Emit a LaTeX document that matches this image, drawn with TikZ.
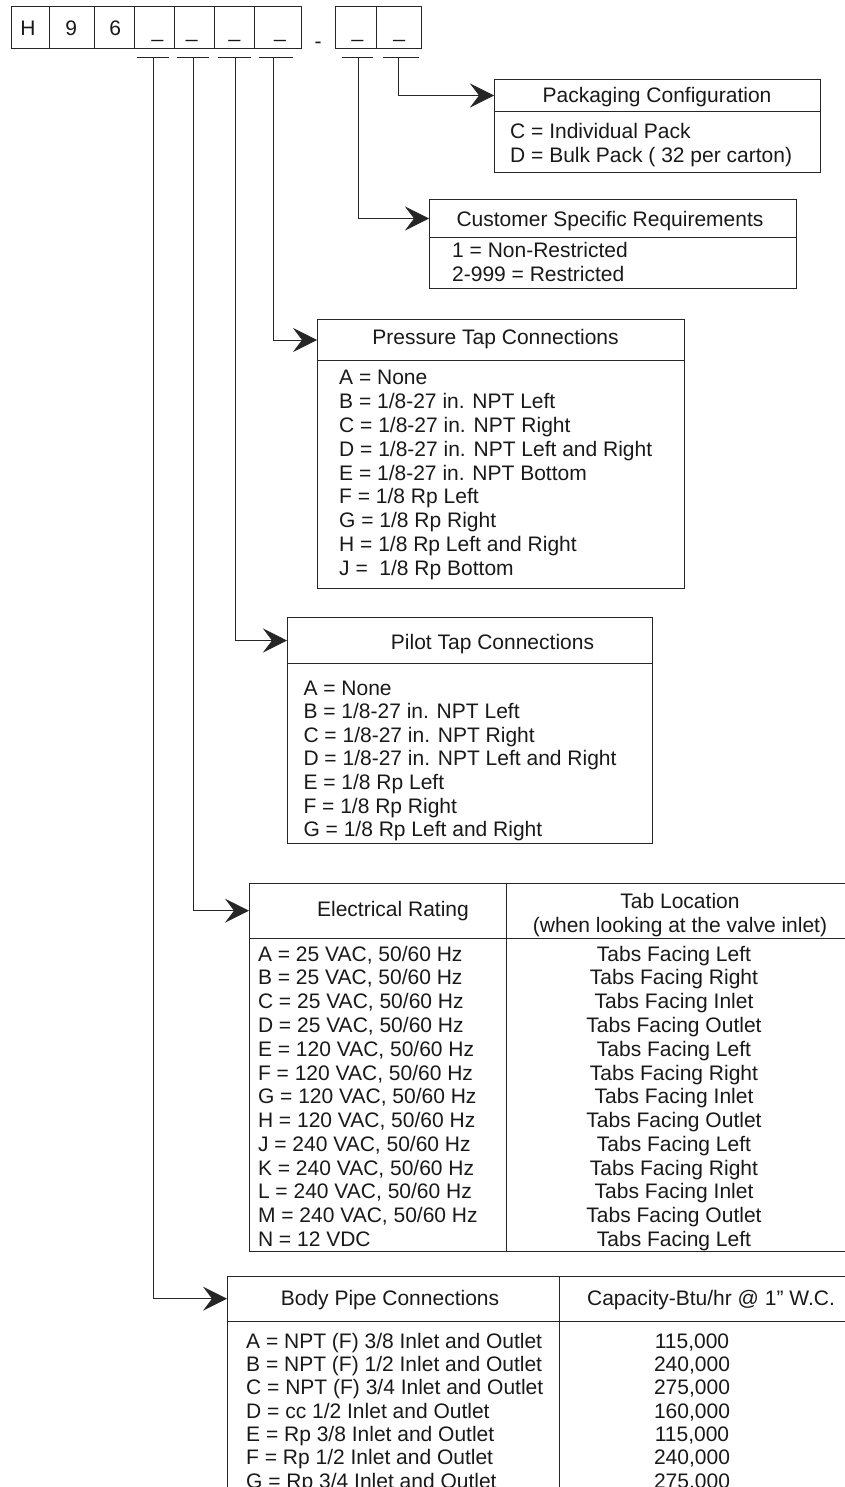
\documentclass[tikz,border=0pt]{standalone}
\usepackage{fontspec}
\setmainfont{Liberation Sans}
\usetikzlibrary{arrows.meta}
\newcommand{\fsz}{\fontsize{21}{24}\selectfont}
\begin{document}
\begin{tikzpicture}[x=1pt,y=-1pt,
  ln/.style={line width=1pt, draw=black!85},
  cell/.style={ln, draw, inner sep=0pt, anchor=north west},
  area/.style={inner sep=0pt, anchor=north west},
  txt/.style={inner sep=0pt, font=\fsz, text height=15pt, text depth=0pt, text=black!90},
  glyph/.style={inner sep=0pt, font=\fsz, anchor=base, text=black!90},
  arr/.style={ln, -{Stealth[length=24pt,width=24pt,inset=9pt]}},
]
\useasboundingbox (0,0) rectangle (845,1487);
\clip (0,0) rectangle (845,1487);

% ---- model code boxes
\foreach \a/\b/\n in {10.7/49/c1,49/94/c2,94/134/c3,134/174/c4,174/214/c5,214/254/c6,254/301/c7,335/376/c8,376/421/c9}{
  \pgfmathsetmacro\w{\b-\a}
  \node[cell, minimum width=\w pt, minimum height=42pt] (\n) at (\a,6) {};
}
\node[txt] (tH) at (28,28.5) {H};
\node[txt] (t9) at (71.2,28.5) {9};
\node[txt] (t6) at (115.3,28.5) {6};
\foreach \x [count=\i] in {157.5,191.7,234.5,280,357.5,399.3}
  \node[glyph] (u\i) at (\x,38) {\_};
\node[glyph] (dash) at (318,49) {-};

% ---- bars under the code positions
\foreach \a/\b in {137/169,177/209,218/251,259/293,342/373,383/419}
  \draw[ln] (\a,58) -- (\b,58);
\coordinate (k1) at (153,58);
\coordinate (k2) at (193,58);
\coordinate (k3) at (235,58);
\coordinate (k4) at (273,58);
\coordinate (k5) at (358,58);
\coordinate (k6) at (398,58);

% ---- Packaging Configuration
\node[cell, minimum width=326pt, minimum height=32pt] (packH) at (494,79) {};
\node[cell, minimum width=326pt, minimum height=61pt] (packB) at (494,111) {};
\node[txt] (packT) at (657,95.5) {Packaging Configuration};
\node[txt, anchor=west] (pk1) at (510,131) {C = Individual Pack};
\node[txt, anchor=west] (pk2) at (510,155) {D = Bulk Pack ( 32 per carton)};

% ---- Customer Specific Requirements
\node[cell, minimum width=367pt, minimum height=38pt] (custH) at (429,199) {};
\node[cell, minimum width=367pt, minimum height=51pt] (custB) at (429,237) {};
\node[txt] (custT) at (610,219.5) {Customer Specific Requirements};
\node[txt, anchor=west] (cu1) at (452,250.5) {1 = Non-Restricted};
\node[txt, anchor=west] (cu2) at (452,274) {2-999 = Restricted};

% ---- Pressure Tap Connections
\node[cell, minimum width=367pt, minimum height=41pt] (presH) at (317,319) {};
\node[cell, minimum width=367pt, minimum height=228pt] (presB) at (317,360) {};
\node[txt] (presT) at (495.5,337) {Pressure Tap Connections};
\foreach \t [count=\i] in {A = None, B = 1/8-27 in. NPT Left, C = 1/8-27 in. NPT Right,
    D = 1/8-27 in. NPT Left and Right, E = 1/8-27 in. NPT Bottom, F = 1/8 Rp Left,
    G = 1/8 Rp Right, H = 1/8 Rp Left and Right, J =\ \ 1/8 Rp Bottom}
  \node[txt, anchor=west] (pr\i) at (339,{376.7+(\i-1)*23.95}) {\t};

% ---- Pilot Tap Connections
\node[cell, minimum width=365pt, minimum height=46pt] (pilotH) at (287,617) {};
\node[cell, minimum width=365pt, minimum height=180pt] (pilotB) at (287,663) {};
\node[txt] (pilotT) at (492.5,642) {Pilot Tap Connections};
\foreach \t [count=\i] in {A = None, B = 1/8-27 in. NPT Left, C = 1/8-27 in. NPT Right,
    D = 1/8-27 in. NPT Left and Right, E = 1/8 Rp Left, F = 1/8 Rp Right,
    G = 1/8 Rp Left and Right}
  \node[txt, anchor=west] (pi\i) at (303.3,{687.5+(\i-1)*23.66}) {\t};

% ---- Electrical Rating table
\draw[ln] (846,883) -- (249,883) -- (249,1251) -- (846,1251);
\draw[ln] (249,938) -- (846,938);
\draw[ln] (506,883) -- (506,1251);
\node[area, minimum width=257pt, minimum height=55pt] (elecH) at (249,883) {};
\node[txt] (elecT) at (393,909) {Electrical Rating};
\node[txt] (tabT1) at (680,900.5) {Tab Location};
\node[txt] (tabT2) at (680,924.5) {(when looking at the valve inlet)};
\foreach \t [count=\i] in {{A = 25 VAC, 50/60 Hz},{B = 25 VAC, 50/60 Hz},{C = 25 VAC, 50/60 Hz},
    {D = 25 VAC, 50/60 Hz},{E = 120 VAC, 50/60 Hz},{F = 120 VAC, 50/60 Hz},{G = 120 VAC, 50/60 Hz},
    {H = 120 VAC, 50/60 Hz},{J = 240 VAC, 50/60 Hz},{K = 240 VAC, 50/60 Hz},{L = 240 VAC, 50/60 Hz},
    {M = 240 VAC, 50/60 Hz},{N = 12 VDC}}
  \node[txt, anchor=west] (el\i) at (257.8,{953.7+(\i-1)*23.76}) {\t};
\foreach \t [count=\i] in {Left,Right,Inlet,Outlet,Left,Right,Inlet,Outlet,Left,Right,Inlet,Outlet,Left}
  \node[txt] (tb\i) at (674,{953.7+(\i-1)*23.76}) {Tabs Facing \t};

% ---- Body Pipe Connections table
\draw[ln] (846,1276) -- (227,1276) -- (227,1490);
\draw[ln] (227,1321) -- (846,1321);
\draw[ln] (559,1276) -- (559,1490);
\node[area, minimum width=332pt, minimum height=45pt] (bodyH) at (227,1276) {};
\node[txt] (bodyT) at (390,1298) {Body Pipe Connections};
\node[txt] (capT) at (711,1298) {Capacity-Btu/hr @ 1” W.C.};
\foreach \t [count=\i] in {A = NPT (F) 3/8 Inlet and Outlet, B = NPT (F) 1/2 Inlet and Outlet,
    C = NPT (F) 3/4 Inlet and Outlet, D = cc 1/2 Inlet and Outlet, E = Rp 3/8 Inlet and Outlet,
    F = Rp 1/2 Inlet and Outlet, G = Rp 3/4 Inlet and Outlet}
  \node[txt, anchor=west] (bp\i) at (246,{1340.8+(\i-1)*23.3}) {\t};
\foreach \t [count=\i] in {{115,000},{240,000},{275,000},{160,000},{115,000},{240,000},{275,000}}
  \node[txt] (cp\i) at (692,{1340.8+(\i-1)*23.3}) {\t};

% ---- connectors
\draw[arr] (k6) |- (packH.west);
\draw[arr] (k5) |- (custH.west);
\draw[arr] (k4) |- (presH.west);
\draw[arr] (k3) |- (pilotH.west);
\draw[arr] (k2) |- (elecH.west);
\draw[arr] (k1) |- (bodyH.west);
\end{tikzpicture}
\end{document}
